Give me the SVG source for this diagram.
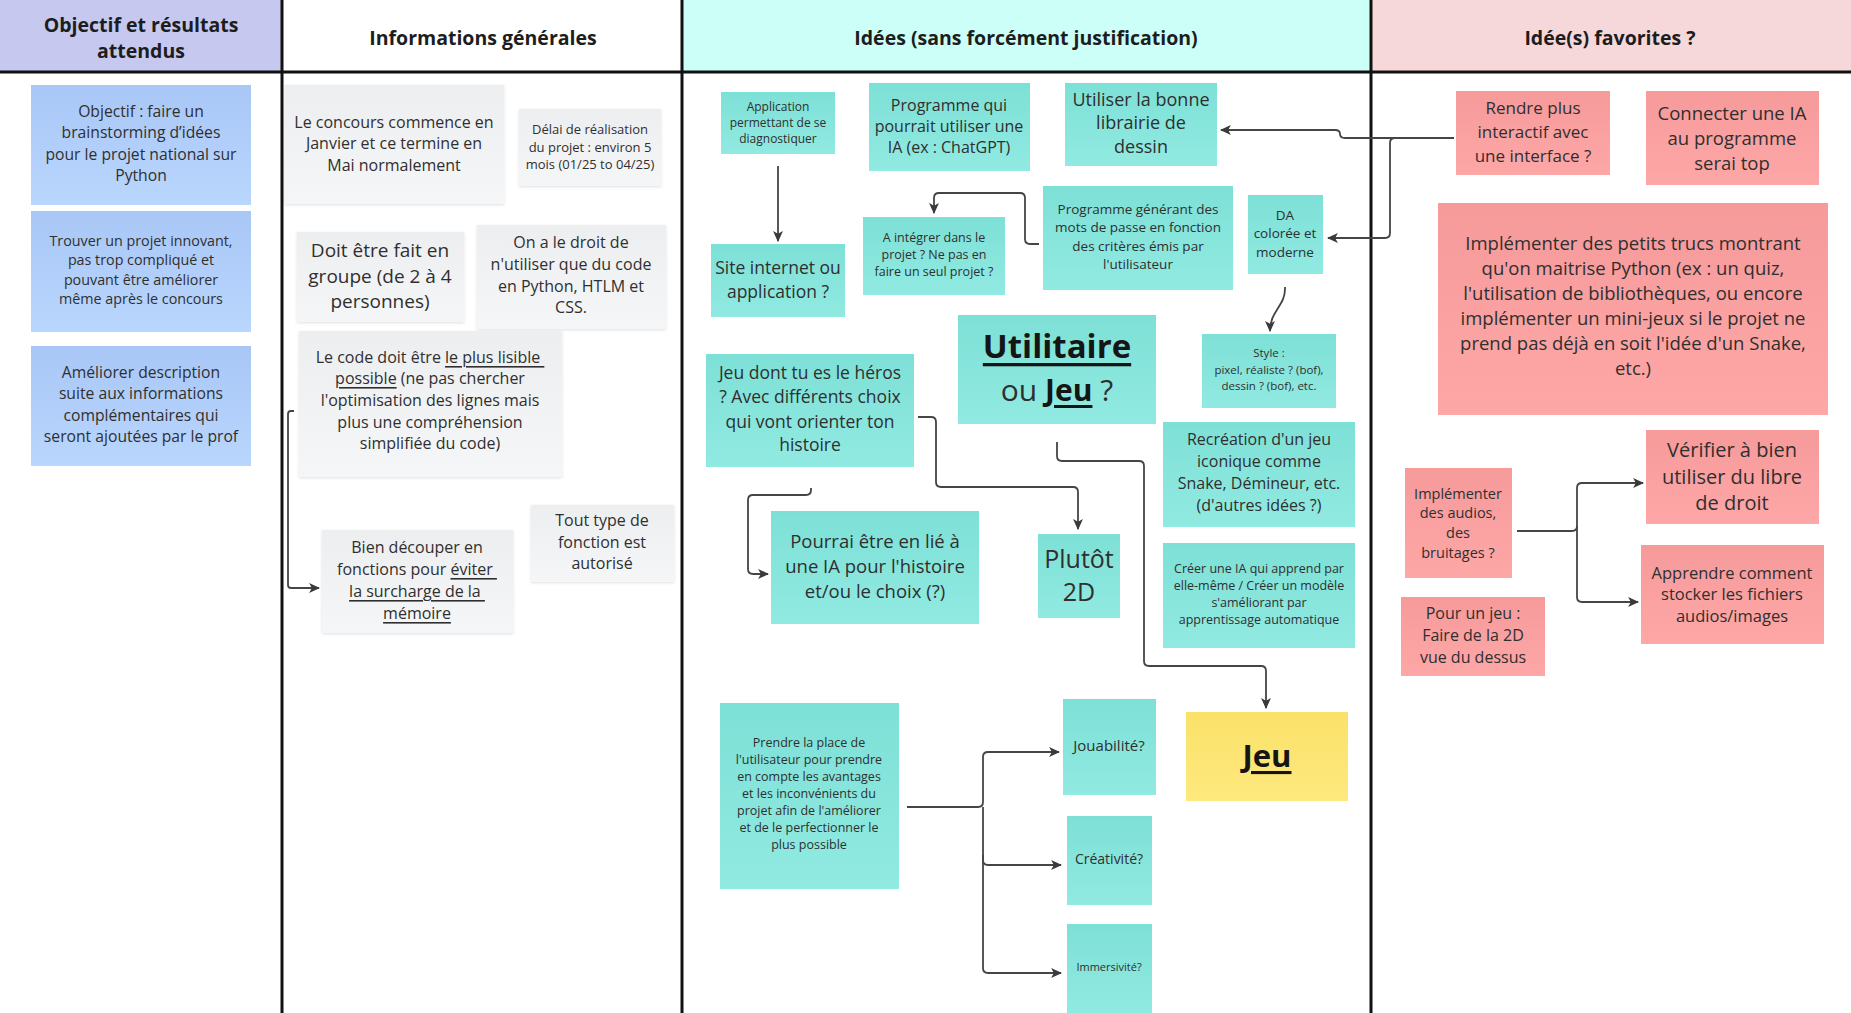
<svg xmlns="http://www.w3.org/2000/svg" width="1851" height="1013" viewBox="0 0 1851 1013">
<style>
text{font-family:'Open Sans','Noto Sans',sans-serif;fill:#2f2f2f;text-anchor:middle;dominant-baseline:central}
tspan{dominant-baseline:central}
.hd{font-weight:700;fill:#1d1d1d;font-size:19.5px}
.u{text-decoration:underline}
.b{font-weight:700;fill:#151515}
.con{fill:none;stroke:#454545;stroke-width:1.8}
.arr{marker-end:url(#ah)}
</style>
<defs>
<linearGradient id="gBlue" x1="0" y1="0" x2="0" y2="1"><stop offset="0" stop-color="#a9c7f6"/><stop offset="1" stop-color="#b9d6fe"/></linearGradient>
<linearGradient id="gGray" x1="0" y1="0" x2="0" y2="1"><stop offset="0" stop-color="#edeef0"/><stop offset="1" stop-color="#f5f6f8"/></linearGradient>
<linearGradient id="gTeal" x1="0" y1="0" x2="0" y2="1"><stop offset="0" stop-color="#7de0d6"/><stop offset="1" stop-color="#91eae2"/></linearGradient>
<linearGradient id="gPink" x1="0" y1="0" x2="0" y2="1"><stop offset="0" stop-color="#f69a9a"/><stop offset="1" stop-color="#fea7a7"/></linearGradient>
<linearGradient id="gYel" x1="0" y1="0" x2="0" y2="1"><stop offset="0" stop-color="#fae169"/><stop offset="1" stop-color="#fee97e"/></linearGradient>
<filter id="sh" x="-10%" y="-10%" width="120%" height="120%"><feDropShadow dx="0" dy="1" stdDeviation="1.5" flood-color="#000" flood-opacity="0.12"/></filter>
<marker id="ah" viewBox="0 0 10 10" refX="9" refY="5" markerWidth="11" markerHeight="11" markerUnits="userSpaceOnUse" orient="auto"><path d="M0,0.5 L10,5 L0,9.5 L2.5,5 Z" fill="#3a3a3a"/></marker>
</defs>

<g id="background">
<rect x="0" y="0" width="1851" height="1013" fill="#ffffff"/>
<rect x="0" y="0" width="282" height="72" fill="#c6c8f0"/>
<rect x="682" y="0" width="689" height="72" fill="#ccfff7"/>
<rect x="1371" y="0" width="480" height="72" fill="#f7d8da"/>
<line x1="0" y1="72" x2="1851" y2="72" stroke="#111" stroke-width="3"/>
<line x1="282" y1="0" x2="282" y2="1013" stroke="#111" stroke-width="3"/>
<line x1="682" y1="0" x2="682" y2="1013" stroke="#111" stroke-width="3"/>
<line x1="1371" y1="0" x2="1371" y2="1013" stroke="#111" stroke-width="3"/>
</g>

<g id="headers">
<text class="hd" x="141"><tspan x="141" y="24">Objectif et résultats</tspan><tspan x="141" y="50">attendus</tspan></text>
<text class="hd" x="483" y="37">Informations générales</text>
<text class="hd" x="1026" y="37">Idées (sans forcément justification)</text>
<text class="hd" x="1610" y="37">Idée(s) favorites ?</text>
</g>

<g id="connectors">
<path class="con arr" d="M294,411 H291 Q288,411 288,414 V585 Q288,588 291,588 H319"/>
<path class="con arr" d="M778,166 V241"/>
<path class="con arr" d="M1039,244 H1030 Q1025,244 1025,239 V198 Q1025,193 1020,193 H939 Q934,193 934,198 V213"/>
<path class="con arr" d="M1454,138 H1345 Q1340,138 1340,134 Q1340,130 1335,130 H1221"/>
<path class="con arr" d="M1395,138 Q1390,138 1390,143 V233 Q1390,238 1385,238 H1328"/>
<path class="con arr" d="M1285,287 C1286,306 1270,310 1270,331"/>
<path class="con arr" d="M918,417 H931 Q936,417 936,422 V482 Q936,487 941,487 H1073 Q1078,487 1078,492 V529"/>
<path class="con arr" d="M811,488 V490 Q811,495 806,495 H753 Q748,495 748,500 V569 Q748,574 753,574 H768"/>
<path class="con arr" d="M1057,442 V456 Q1057,461 1062,461 H1139 Q1144,461 1144,466 V661 Q1144,666 1149,666 H1261 Q1266,666 1266,671 V708"/>
<path class="con arr" d="M907,807 H978 Q983,807 983,802 V757 Q983,752 988,752 H1059"/>
<path class="con arr" d="M983,807 V968 Q983,973 988,973 H1061"/>
<path class="con arr" d="M983,855 V860 Q983,865 988,865 H1061"/>
<path class="con arr" d="M1517,531 H1572 Q1577,531 1577,526 V488 Q1577,483 1582,483 H1643"/>
<path class="con arr" d="M1577,526 V597 Q1577,602 1582,602 H1638"/>
</g>

<g id="n-objectif"><rect x="31" y="85" width="220" height="120" fill="url(#gBlue)"/>
<text font-size="15.7"><tspan x="141" y="111">Objectif : faire un</tspan><tspan x="141" y="132">brainstorming d’idées</tspan><tspan x="141" y="154">pour le projet national sur</tspan><tspan x="141" y="175">Python</tspan></text></g>
<g id="n-trouver"><rect x="31" y="211" width="220" height="121" fill="url(#gBlue)"/>
<text font-size="14.3"><tspan x="141" y="240">Trouver un projet innovant,</tspan><tspan x="141" y="259">pas trop compliqué et</tspan><tspan x="141" y="279">pouvant être améliorer</tspan><tspan x="141" y="298">même après le concours</tspan></text></g>
<g id="n-ameliorer"><rect x="31" y="346" width="220" height="120" fill="url(#gBlue)"/>
<text font-size="15.7"><tspan x="141" y="372">Améliorer description</tspan><tspan x="141" y="393">suite aux informations</tspan><tspan x="141" y="415">complémentaires qui</tspan><tspan x="141" y="436">seront ajoutées par le prof</tspan></text></g>

<g id="n-concours"><rect x="285" y="85" width="219" height="119" fill="url(#gGray)" filter="url(#sh)"/>
<text font-size="16"><tspan x="394" y="122">Le concours commence en</tspan><tspan x="394" y="143">Janvier et ce termine en</tspan><tspan x="394" y="165">Mai normalement</tspan></text></g>
<g id="n-delai"><rect x="519" y="109" width="142" height="77" fill="url(#gGray)" filter="url(#sh)"/>
<text font-size="13"><tspan x="590" y="129">Délai de réalisation</tspan><tspan x="590" y="147">du projet : environ 5</tspan><tspan x="590" y="164">mois (01/25 to 04/25)</tspan></text></g>
<g id="n-groupe"><rect x="297" y="232" width="167" height="90" fill="url(#gGray)" filter="url(#sh)"/>
<text font-size="19"><tspan x="380" y="250">Doit être fait en</tspan><tspan x="380" y="276">groupe (de 2 à 4</tspan><tspan x="380" y="301">personnes)</tspan></text></g>
<g id="n-droit"><rect x="477" y="225" width="189" height="104" fill="url(#gGray)" filter="url(#sh)"/>
<text font-size="16"><tspan x="571" y="242">On a le droit de</tspan><tspan x="571" y="264">n'utiliser que du code</tspan><tspan x="571" y="286">en Python, HTLM et</tspan><tspan x="571" y="307">CSS.</tspan></text></g>
<g id="n-code"><rect x="299" y="331" width="263" height="146" fill="url(#gGray)" filter="url(#sh)"/>
<text font-size="16"><tspan x="430" y="357">Le code doit être <tspan class="u">le plus lisible </tspan></tspan><tspan x="430" y="378"><tspan class="u">possible</tspan> (ne pas chercher</tspan><tspan x="430" y="400">l'optimisation des lignes mais</tspan><tspan x="430" y="422">plus une compréhension</tspan><tspan x="430" y="443">simplifiée du code)</tspan></text></g>
<g id="n-decouper"><rect x="322" y="530" width="191" height="103" fill="url(#gGray)" filter="url(#sh)"/>
<text font-size="16"><tspan x="417" y="547">Bien découper en</tspan><tspan x="417" y="569">fonctions pour <tspan class="u">éviter </tspan></tspan><tspan x="417" y="591" class="u">la surcharge de la </tspan><tspan x="417" y="613" class="u">mémoire</tspan></text></g>
<g id="n-fonction"><rect x="531" y="505" width="143" height="77" fill="url(#gGray)" filter="url(#sh)"/>
<text font-size="16"><tspan x="602" y="520">Tout type de</tspan><tspan x="602" y="542">fonction est</tspan><tspan x="602" y="563">autorisé</tspan></text></g>

<g id="n-application"><rect x="721" y="92" width="114" height="62" fill="url(#gTeal)"/>
<text font-size="12"><tspan x="778" y="106">Application</tspan><tspan x="778" y="122">permettant de se</tspan><tspan x="778" y="138">diagnostiquer</tspan></text></g>
<g id="n-programme-ia"><rect x="869" y="83" width="161" height="88" fill="url(#gTeal)"/>
<text font-size="16"><tspan x="949" y="105">Programme qui</tspan><tspan x="949" y="126">pourrait utiliser une</tspan><tspan x="949" y="147">IA (ex : ChatGPT)</tspan></text></g>
<g id="n-librairie"><rect x="1065" y="83" width="152" height="83" fill="url(#gTeal)"/>
<text font-size="18"><tspan x="1141" y="99">Utiliser la bonne</tspan><tspan x="1141" y="122">librairie de</tspan><tspan x="1141" y="146">dessin</tspan></text></g>
<g id="n-integrer"><rect x="863" y="217" width="142" height="78" fill="url(#gTeal)"/>
<text font-size="12.5"><tspan x="934" y="237">A intégrer dans le</tspan><tspan x="934" y="254">projet ? Ne pas en</tspan><tspan x="934" y="271">faire un seul projet ?</tspan></text></g>
<g id="n-mdp"><rect x="1043" y="186" width="190" height="104" fill="url(#gTeal)"/>
<text font-size="13.5"><tspan x="1138" y="209">Programme générant des</tspan><tspan x="1138" y="227">mots de passe en fonction</tspan><tspan x="1138" y="246">des critères émis par</tspan><tspan x="1138" y="264">l'utilisateur</tspan></text></g>
<g id="n-da"><rect x="1248" y="195" width="75" height="79" fill="url(#gTeal)"/>
<text font-size="13.5"><tspan x="1285" y="215">DA</tspan><tspan x="1285" y="233">colorée et</tspan><tspan x="1285" y="252">moderne</tspan></text></g>
<g id="n-site"><rect x="711" y="244" width="134" height="73" fill="url(#gTeal)"/>
<text font-size="17.5"><tspan x="778" y="267">Site internet ou</tspan><tspan x="778" y="291">application ?</tspan></text></g>
<g id="n-utilitaire"><rect x="958" y="315" width="198" height="109" fill="url(#gTeal)"/>
<text font-size="33"><tspan x="1057" y="345" class="b u">Utilitaire</tspan><tspan x="1057" y="389" font-size="30">ou <tspan class="b u">Jeu</tspan> ?</tspan></text></g>
<g id="n-style"><rect x="1202" y="334" width="134" height="74" fill="url(#gTeal)"/>
<text font-size="11.5"><tspan x="1269" y="352">Style :</tspan><tspan x="1269" y="369">pixel, réaliste ? (bof),</tspan><tspan x="1269" y="385">dessin ? (bof), etc.</tspan></text></g>
<g id="n-heros"><rect x="706" y="354" width="208" height="113" fill="url(#gTeal)"/>
<text font-size="17.5"><tspan x="810" y="372">Jeu dont tu es le héros</tspan><tspan x="810" y="396">? Avec différents choix</tspan><tspan x="810" y="421">qui vont orienter ton</tspan><tspan x="810" y="444">histoire</tspan></text></g>
<g id="n-recreation"><rect x="1163" y="422" width="192" height="105" fill="url(#gTeal)"/>
<text font-size="16"><tspan x="1259" y="439">Recréation d'un jeu</tspan><tspan x="1259" y="461">iconique comme</tspan><tspan x="1259" y="483">Snake, Démineur, etc.</tspan><tspan x="1259" y="505">(d'autres idées ?)</tspan></text></g>
<g id="n-ia-apprend"><rect x="1163" y="543" width="192" height="105" fill="url(#gTeal)"/>
<text font-size="12.5"><tspan x="1259" y="568">Créer une IA qui apprend par</tspan><tspan x="1259" y="585">elle-même / Créer un modèle</tspan><tspan x="1259" y="602">s'améliorant par</tspan><tspan x="1259" y="619">apprentissage automatique</tspan></text></g>
<g id="n-pourrai"><rect x="771" y="511" width="208" height="113" fill="url(#gTeal)"/>
<text font-size="18.5"><tspan x="875" y="540">Pourrai être en lié à</tspan><tspan x="875" y="565">une IA pour l'histoire</tspan><tspan x="875" y="590">et/ou le choix (?)</tspan></text></g>
<g id="n-plutot"><rect x="1038" y="534" width="82" height="84" fill="url(#gTeal)"/>
<text font-size="25"><tspan x="1079" y="558">Plutôt</tspan><tspan x="1079" y="591">2D</tspan></text></g>
<g id="n-prendre"><rect x="720" y="703" width="179" height="186" fill="url(#gTeal)"/>
<text font-size="12.5"><tspan x="809" y="742">Prendre la place de</tspan><tspan x="809" y="759">l'utilisateur pour prendre</tspan><tspan x="809" y="776">en compte les avantages</tspan><tspan x="809" y="793">et les inconvénients du</tspan><tspan x="809" y="810">projet afin de l'améliorer</tspan><tspan x="809" y="827">et de le perfectionner le</tspan><tspan x="809" y="844">plus possible</tspan></text></g>
<g id="n-jouabilite"><rect x="1063" y="699" width="93" height="96" fill="url(#gTeal)"/>
<text font-size="15" x="1109" y="745">Jouabilité?</text></g>
<g id="n-creativite"><rect x="1067" y="816" width="85" height="89" fill="url(#gTeal)"/>
<text font-size="14" x="1109" y="858">Créativité?</text></g>
<g id="n-immersivite"><rect x="1067" y="924" width="85" height="89" fill="url(#gTeal)"/>
<text font-size="11" x="1109" y="966">Immersivité?</text></g>
<g id="n-jeu"><rect x="1186" y="712" width="162" height="89" fill="url(#gYel)"/>
<text class="b u" font-size="31" x="1267" y="755">Jeu</text></g>

<g id="n-interactif"><rect x="1456" y="91" width="154" height="84" fill="url(#gPink)"/>
<text font-size="17"><tspan x="1533" y="107">Rendre plus</tspan><tspan x="1533" y="131">interactif avec</tspan><tspan x="1533" y="155">une interface ?</tspan></text></g>
<g id="n-connecter"><rect x="1646" y="91" width="173" height="94" fill="url(#gPink)"/>
<text font-size="18.5"><tspan x="1732" y="112">Connecter une IA</tspan><tspan x="1732" y="137">au programme</tspan><tspan x="1732" y="162">serai top</tspan></text></g>
<g id="n-implementer"><rect x="1438" y="203" width="390" height="212" fill="url(#gPink)"/>
<text font-size="18.5"><tspan x="1633" y="242">Implémenter des petits trucs montrant</tspan><tspan x="1633" y="267">qu'on maitrise Python (ex : un quiz,</tspan><tspan x="1633" y="292">l'utilisation de bibliothèques,  ou encore</tspan><tspan x="1633" y="317">implémenter un mini-jeux si le projet ne</tspan><tspan x="1633" y="342">prend pas déjà en soit l'idée d'un Snake,</tspan><tspan x="1633" y="367">etc.)</tspan></text></g>
<g id="n-audios"><rect x="1405" y="468" width="107" height="110" fill="url(#gPink)"/>
<text font-size="14.5"><tspan x="1458" y="493">Implémenter</tspan><tspan x="1458" y="512">des audios,</tspan><tspan x="1458" y="532">des</tspan><tspan x="1458" y="552">bruitages ?</tspan></text></g>
<g id="n-2d"><rect x="1401" y="597" width="144" height="79" fill="url(#gPink)"/>
<text font-size="16"><tspan x="1473" y="613">Pour un jeu :</tspan><tspan x="1473" y="635">Faire de la 2D</tspan><tspan x="1473" y="657">vue du dessus</tspan></text></g>
<g id="n-libre"><rect x="1646" y="430" width="173" height="94" fill="url(#gPink)"/>
<text font-size="20"><tspan x="1732" y="449">Vérifier à bien</tspan><tspan x="1732" y="476">utiliser du libre</tspan><tspan x="1732" y="502">de droit</tspan></text></g>
<g id="n-stocker"><rect x="1641" y="545" width="183" height="99" fill="url(#gPink)"/>
<text font-size="16.5"><tspan x="1732" y="572">Apprendre comment</tspan><tspan x="1732" y="593">stocker les fichiers</tspan><tspan x="1732" y="615">audios/images</tspan></text></g>
</svg>
